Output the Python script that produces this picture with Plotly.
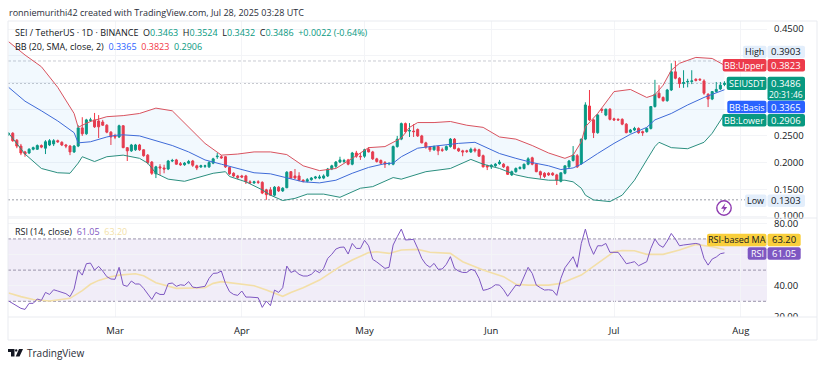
import pandas as pd
import plotly.graph_objects as go

W, H = 825, 366
FONT = "Open Sans"

# ---------- data ----------
dates = pd.date_range("2025-02-03", periods=176)
opens = [.254,.255,.242,.231,.220,.218,.225,.225,.232,.227,
 .233,.235,.241,.238,.233,.231,.220,.231,.265,.254,
 .279,.280,.278,.276,.270,.257,.250,.248,.269,.228,
 .222,.224,.233,.224,.214,.201,.179,.192,.190,.188,
 .203,.205,.198,.196,.199,.203,.194,.192,.193,.192,
 .199,.211,.211,.211,.191,.180,.175,.175,.175,.164,
 .162,.164,.163,.149,.149,.139,.154,.147,.153,.183,
 .175,.175,.167,.165,.168,.171,.171,.171,.175,.188,
 .193,.201,.202,.205,.197,.218,.212,.212,.225,.220,
 .207,.204,.200,.198,.197,.230,.244,.273,.259,.259,
 .262,.250,.237,.229,.224,.230,.224,.224,.230,.244,
 .226,.222,.222,.220,.225,.224,.213,.194,.192,.194,
 .198,.197,.192,.177,.183,.189,.189,.197,.209,.197,
 .183,.180,.180,.180,.177,.165,.180,.192,.204,.213,
 .198,.244,.306,.280,.256,.300,.289,.300,.282,.281,
 .281,.272,.257,.261,.264,.258,.258,.264,.305,.330,
 .322,.316,.336,.370,.358,.348,.351,.352,.356,.356,
 .353,.328,.319,.333,.338,.3463]
highs = [.257,.257,.244,.235,.222,.227,.230,.234,.234,.242,
 .244,.244,.243,.240,.235,.233,.233,.270,.285,.282,
 .284,.293,.289,.280,.272,.259,.254,.271,.270,.229,
 .235,.235,.235,.225,.216,.203,.194,.197,.196,.205,
 .207,.207,.201,.201,.205,.205,.196,.196,.196,.203,
 .209,.218,.214,.212,.192,.182,.177,.177,.177,.167,
 .166,.167,.165,.151,.154,.156,.156,.154,.184,.184,
 .188,.182,.169,.171,.173,.175,.177,.178,.190,.196,
 .203,.211,.207,.207,.220,.222,.218,.226,.229,.222,
 .209,.206,.203,.201,.232,.250,.275,.275,.274,.272,
 .264,.252,.239,.231,.232,.232,.228,.232,.246,.246,
 .228,.224,.224,.228,.228,.226,.215,.196,.197,.199,
 .205,.199,.194,.185,.191,.193,.198,.210,.211,.199,
 .185,.182,.182,.182,.179,.181,.194,.205,.231,.216,
 .245,.313,.336,.282,.291,.302,.301,.302,.284,.283,
 .283,.274,.263,.267,.266,.260,.266,.306,.355,.345,
 .324,.338,.386,.3903,.360,.373,.357,.373,.358,.358,
 .356,.330,.334,.351,.351,.3524]
lows = [.250,.239,.227,.214,.211,.216,.223,.224,.227,.216,
 .231,.231,.237,.231,.227,.214,.218,.229,.250,.252,
 .276,.265,.246,.269,.255,.233,.244,.246,.227,.203,
 .220,.222,.222,.211,.197,.177,.171,.177,.180,.186,
 .201,.196,.194,.194,.197,.192,.186,.190,.190,.190,
 .197,.207,.207,.190,.177,.173,.169,.171,.160,.160,
 .160,.160,.141,.1303,.138,.137,.145,.145,.152,.170,
 .170,.165,.163,.163,.166,.169,.169,.169,.173,.186,
 .190,.199,.199,.195,.195,.209,.205,.209,.219,.205,
 .200,.197,.190,.195,.195,.228,.242,.255,.248,.248,
 .248,.236,.226,.220,.222,.214,.220,.222,.228,.225,
 .220,.212,.218,.218,.219,.211,.191,.186,.188,.192,
 .196,.190,.177,.175,.181,.187,.187,.195,.195,.182,
 .170,.171,.175,.175,.158,.163,.178,.190,.202,.190,
 .196,.242,.278,.246,.254,.293,.287,.279,.278,.278,
 .270,.255,.255,.259,.254,.250,.256,.262,.303,.320,
 .314,.314,.334,.356,.340,.340,.341,.347,.352,.353,
 .327,.304,.317,.331,.336,.3432]
closes = [.254,.241,.231,.218,.216,.225,.228,.232,.229,.239,
 .241,.241,.239,.233,.231,.220,.231,.265,.254,.280,
 .280,.267,.267,.270,.257,.248,.248,.269,.228,.222,
 .233,.233,.224,.213,.200,.180,.192,.190,.188,.203,
 .204,.197,.196,.199,.202,.195,.190,.194,.194,.200,
 .207,.212,.209,.192,.179,.175,.172,.173,.164,.162,
 .164,.163,.143,.140,.139,.154,.147,.152,.182,.171,
 .171,.167,.165,.168,.171,.173,.173,.175,.188,.194,
 .201,.205,.204,.197,.218,.212,.211,.224,.220,.207,
 .202,.199,.197,.198,.230,.244,.273,.258,.260,.258,
 .250,.237,.229,.224,.230,.222,.223,.230,.244,.226,
 .222,.220,.221,.225,.222,.212,.192,.192,.195,.197,
 .201,.192,.178,.183,.189,.191,.197,.207,.197,.183,
 .177,.174,.177,.177,.167,.181,.194,.203,.214,.192,
 .244,.308,.280,.256,.289,.298,.300,.281,.280,.280,
 .272,.256,.261,.264,.256,.256,.264,.305,.328,.322,
 .316,.336,.370,.358,.348,.350,.352,.353,.354,.355,
 .330,.319,.333,.337,.345,.3486]

upper_idx = [0,4,8,12,16,17,18,20,24,28,32,36,40,44,48,52,56,60,64,68,72,76,80,84,88,92,96,98,100,104,108,112,116,120,124,128,132,136,138,140,141,144,148,152,156,158,160,162,164,168,172,175]
upper_val = [.4264,.4015,.3796,.341,.292,.266,.270,.277,.286,.288,.292,.302,.297,.267,.236,.214,.216,.220,.220,.215,.194,.185,.189,.208,.228,.230,.246,.266,.275,.275,.277,.270,.266,.248,.244,.232,.218,.208,.214,.239,.267,.292,.333,.337,.322,.327,.345,.373,.386,.397,.395,.3823]
basis_idx = [0,4,8,12,16,17,20,24,26,28,32,36,40,44,48,52,56,60,64,68,72,76,80,84,88,92,94,96,100,102,106,110,114,116,120,124,128,132,135,138,140,144,148,152,156,158,162,166,170,175]
basis_val = [.341,.315,.297,.278,.256,.237,.239,.248,.251,.252,.250,.241,.232,.220,.205,.197,.189,.181,.179,.171,.164,.162,.167,.180,.191,.198,.199,.211,.227,.229,.233,.236,.238,.231,.217,.208,.200,.194,.187,.190,.197,.217,.236,.253,.266,.280,.292,.308,.322,.3365]
lower_idx = [0,4,8,12,15,17,18,21,24,28,32,34,36,39,43,47,50,53,54,58,62,64,67,70,73,77,81,86,89,94,96,102,108,113,116,120,124,127,132,136,138,140,141,143,147,150,153,156,158,159,162,166,170,172,175]
lower_val = [.255,.216,.189,.181,.180,.199,.211,.202,.211,.214,.208,.199,.180,.169,.165,.174,.180,.183,.174,.164,.149,.139,.129,.133,.141,.141,.135,.152,.155,.172,.169,.183,.189,.206,.197,.189,.177,.172,.167,.167,.164,.152,.139,.130,.127,.139,.167,.205,.230,.238,.228,.226,.238,.255,.2906]

rsi = [30.2,28.5,27.2,25.5,24.8,28.7,28.7,31.5,30.6,35.7,34.4,37.4,36.6,35.7,34.9,33,37.9,50,46.8,54.1,54.5,50,52.4,49.4,45.8,44.3,44.1,51.8,40.4,39.6,43,41.1,41.1,38.3,35.1,31.2,35.7,34.4,34.4,41.3,41.7,39.6,40.6,40.2,42.6,39.1,38.7,39.1,39.6,44.7,47.9,48.1,49.4,41.5,36.2,34.4,33.8,36.6,32.7,32.7,32.7,32.3,26.1,30.2,27.2,37.2,35.7,38.7,
 52.6,48.5,49.6,47.3,46.2,46.2,47.3,49.8,48.3,51.1,57.5,60.1,63.5,64.6,64.8,60.3,67.1,63.9,63.9,69.1,65.6,56.9,55.2,53.2,51.1,51.8,66.1,71.4,76.3,69.3,69.3,69.7,63.9,57.5,53.7,51.8,54.3,50.5,50.7,53.7,58.6,51.1,49.4,48.5,48.5,50.5,49.6,44.7,37,37.6,38.7,40.6,40.4,37.4,33.2,36.6,40.4,39.8,45.8,51.8,47.9,40.4,38.7,37.2,37.4,
 37,33.8,44.7,51.5,55.4,58.6,51.8,67.1,76.3,66.1,60.1,65.6,65.6,67.1,61.4,61.4,61.4,57.9,54.1,54.7,55.4,52.8,53.9,55.4,63.9,69.9,66.1,64.6,68.6,73.5,69.9,65.6,66.1,66.5,66.9,67.1,66.5,57.5,53.2,57.1,58.4,60.5,61.05]
rsi_ma_idx = [0,3,6,10,15,18,20,22,25,27,31,33,36,39,41,48,50,52,55,60,63,67,69,72,76,81,84,88,90,93,96,100,103,108,111,116,121,124,127,132,135,140,144,148,150,153,156,160,164,168,172,175]
rsi_ma_val = [35.3,33,31.2,30.2,31.9,36.8,40.9,43.4,45.8,46.8,47.7,46.4,41.9,40,38.3,38.7,41.5,42.6,41.5,40,37.2,33.2,35.7,38.7,43.6,52.2,56.5,61.2,61.8,60.7,62.9,63.3,61.4,60.7,55.4,50,45.8,40.9,40.4,40.4,41.5,46.8,54.3,61.8,62.6,62.4,60.1,60.1,62.9,66.5,65,63.2]

price_ticks = [.10,.15,.20,.25,.30,.35,.40,.45]
price_labels = ["0.1000","0.1500","0.2000","0.2500","","","","0.4500"]
rsi_ticks = [20,40,60,80]
rsi_labels = ["20.00","40.00","","80.00"]
rsi_levels = [30,50,70]
month_ticks = ["2025-03-01","2025-04-01","2025-05-01","2025-06-01","2025-07-01","2025-08-01"]
month_labels = ["Mar","Apr","May","Jun","Jul","Aug"]
high_price, low_price, last_price = 0.3903, 0.1303, 0.3486

for a in (opens, highs, lows, closes, rsi):
    assert len(a) == 176, len(a)
assert len(upper_idx) == len(upper_val) and len(basis_idx) == len(basis_val)
assert len(lower_idx) == len(lower_val) and len(rsi_ma_idx) == len(rsi_ma_val)

# ---------- colours ----------
UP, DOWN, BLUE, PURPLE, GOLD = "#089981", "#F23645", "#2962FF", "#7E57C2", "#F9CF3C"
TXT = "#131722"
GRID = "#F3F4F7"
BORDER = "#E9EBF0"

# ---------- layout helpers ----------
def px(x): return x / W
def py(y): return 1 - y / H

shapes, notes = [], []

def text(x, y, s, size=9, color=TXT, anchor="left"):
    notes.append(dict(xref="paper", yref="paper", x=px(x), y=py(y), text=s, showarrow=False,
                      xanchor=anchor, yanchor="middle", align=anchor, borderpad=0,
                      font=dict(family=FONT, size=size, color=color)))

def rrect(x0, x1, y0, y1, fill, r=2):
    X0, X1, Y0, Y1 = px(x0), px(x1), py(y0), py(y1)
    rx, ry = r / W, r / H
    d = (f"M{X0+rx},{Y0} L{X1-rx},{Y0} Q{X1},{Y0} {X1},{Y0-ry} L{X1},{Y1+ry} Q{X1},{Y1} {X1-rx},{Y1} "
         f"L{X0+rx},{Y1} Q{X0},{Y1} {X0},{Y1+ry} L{X0},{Y0-ry} Q{X0},{Y0} {X0+rx},{Y0} Z")
    shapes.append(dict(type="path", xref="paper", yref="paper", path=d, fillcolor=fill, line_width=0, layer="above"))

def tag(name, value, xl, yc, h, bg, fg="white", xr=805):
    rrect(xl, 766.5, yc - h/2, yc + h/2, bg)
    rrect(767.5, xr, yc - h/2, yc + h/2, bg)
    text((xl + 766.5) / 2, yc, name, size=9, color=fg, anchor="center")
    text(786 if xr > 802 else 784, yc, value, size=9.5, color=fg, anchor="center")

def hline(v, yref, color, dash, width=1):
    shapes.append(dict(type="line", xref="paper", x0=px(8), x1=px(767), yref=yref, y0=v, y1=v,
                       line=dict(color=color, width=width, dash=dash), layer="below"))

# ---------- traces ----------
fig = go.Figure()
band_x = [dates[i] for i in upper_idx] + [dates[i] for i in reversed(lower_idx)]
band_y = upper_val + lower_val[::-1]
fig.add_trace(go.Scatter(x=band_x, y=band_y, fill="toself", fillcolor="rgba(33,150,243,0.06)",
                         mode="lines", line=dict(width=0), hoverinfo="skip", showlegend=False))
fig.add_trace(go.Candlestick(x=dates, open=opens, high=highs, low=lows, close=closes, whiskerwidth=0,
                             increasing=dict(line=dict(color=UP, width=1), fillcolor=UP),
                             decreasing=dict(line=dict(color=DOWN, width=1), fillcolor=DOWN),
                             showlegend=False))
for idx, val, col in ((upper_idx, upper_val, "#D9535F"), (basis_idx, basis_val, "#3F6BD8"), (lower_idx, lower_val, "#2B8F7F")):
    fig.add_trace(go.Scatter(x=[dates[i] for i in idx], y=val, mode="lines",
                             line=dict(color=col, width=1), showlegend=False))
fig.add_trace(go.Scatter(x=[dates[i] for i in rsi_ma_idx], y=rsi_ma_val, mode="lines", xaxis="x2", yaxis="y2",
                         line=dict(color="#F3DFA8", width=1.6), showlegend=False))
fig.add_trace(go.Scatter(x=dates, y=rsi, mode="lines", xaxis="x2", yaxis="y2",
                         line=dict(color=PURPLE, width=1), showlegend=False))

# ---------- reference lines ----------
hline(high_price, "y", "#C9CBD2", "3px,2px")
hline(last_price, "y", "#B5B8C0", "2px,2px")
hline(low_price, "y", "#9A9DA6", "2px,2px")
shapes.append(dict(type="rect", xref="paper", x0=px(8), x1=px(767), yref="y2", y0=rsi_levels[0], y1=rsi_levels[2],
                   fillcolor="rgba(126,87,194,0.11)", line_width=0, layer="below"))
for lv in rsi_levels:
    hline(lv, "y2", "#9C95AC", "3px,2px")

# ---------- frame; masks clip the axis labels at each pane edge ----------
shapes.append(dict(type="rect", xref="paper", yref="paper", x0=px(767.5), x1=px(817), y0=py(321), y1=py(317),
                   fillcolor="white", line_width=0, layer="above"))
for y in (21, 218, 317, 340):
    shapes.append(dict(type="line", xref="paper", yref="paper", x0=px(8), x1=px(817), y0=py(y), y1=py(y),
                       line=dict(color=BORDER, width=1), layer="above"))
for x in (8, 817):
    shapes.append(dict(type="line", xref="paper", yref="paper", x0=px(x), x1=px(x), y0=py(21), y1=py(340),
                       line=dict(color=BORDER, width=1), layer="above"))

# ---------- header and legends ----------
text(8, 12, "ronniemurithi42 created with TradingView.com, Jul 28, 2025 03:28 UTC", size=9, color="#2A2E39")
g = f'<span style="color:{UP}">'
text(14, 33, f"SEI / TetherUS · 1D · BINANCE  O{g}0.3463</span>  H{g}0.3524</span>  L{g}0.3432</span>  "
             f"C{g}0.3486  +0.0022 (-0.64%)</span>", size=9)
text(14, 46, f'BB (20, SMA, close, 2)  <span style="color:{BLUE}">0.3365</span>  '
             f'<span style="color:{DOWN}">0.3823</span>  {g}0.2906</span>', size=9)
text(14, 231, f'RSI (14, close)  <span style="color:{PURPLE}">61.05</span>  '
              f'<span style="color:#F3DFA8">63.20</span>', size=9)

# ---------- price tags ----------
tag("High", "0.3903", 743, 52, 12.5, "#E3EEFB", fg=TXT)
tag("BB:Upper", "0.3823", 722.7, 65.3, 12.5, "#EC3B4B")
rrect(726.7, 766.5, 76.7, 90, UP)
rrect(767.5, 805, 76.7, 100.5, UP)
text(746.6, 83.3, "SEIUSDT", size=9, color="white", anchor="center")
text(786, 83, "0.3486", size=9.5, color="white", anchor="center")
text(786, 94.5, "20:31:46", size=8.5, color="white", anchor="center")
tag("BB:Basis", "0.3365", 727.3, 107, 12.5, BLUE)
tag("BB:Lower", "0.2906", 722.3, 120.3, 12.5, UP)
tag("Low", "0.1303", 745, 200.7, 12.5, "#E3EEFB", fg=TXT)
tag("RSI-based MA", "63.20", 707, 240, 12.5, GOLD, fg=TXT, xr=800.7)
tag("RSI", "61.05", 747.7, 253.5, 12.5, PURPLE, xr=800.7)

# ---------- lightning badge ----------
cx, cy, r = 724, 208, 7.2
shapes.append(dict(type="circle", xref="paper", yref="paper", x0=px(cx-r), x1=px(cx+r), y0=py(cy-r), y1=py(cy+r),
                   line=dict(color="#8E3BB0", width=1.4), fillcolor="white", layer="above"))
bolt = [(725.5,203),(721,208.8),(724,208.8),(722.6,213),(727.2,207),(724.2,207)]
shapes.append(dict(type="path", xref="paper", yref="paper", line_width=0, fillcolor="#8E3BB0", layer="above",
                   path="M" + " L".join(f"{px(a)},{py(b)}" for a, b in bolt) + " Z"))

# ---------- TradingView mark ----------
for poly in ([(8,349),(14.5,349),(14.5,356.5),(11,356.5),(11,352),(8,352)],):
    shapes.append(dict(type="path", xref="paper", yref="paper", line_width=0, fillcolor=TXT, layer="above",
                       path="M" + " L".join(f"{px(a)},{py(b)}" for a, b in poly) + " Z"))
shapes.append(dict(type="circle", xref="paper", yref="paper", x0=px(15), x1=px(17.4), y0=py(351.6), y1=py(349.2),
                   fillcolor=TXT, line_width=0, layer="above"))
shapes.append(dict(type="path", xref="paper", yref="paper", line_width=0, fillcolor=TXT, layer="above",
                   path="M" + " L".join(f"{px(a)},{py(b)}" for a, b in [(19,349),(23,349),(19.5,356.5),(15.7,356.5)]) + " Z"))
text(26, 353, "TradingView", size=10, color="#2A2E39")

# ---------- axes ----------
x_range = ["2025-02-02 20:10", "2025-08-07 09:36"]
common_x = dict(range=x_range, type="date", tickvals=month_ticks, ticktext=month_labels,
                showgrid=True, gridcolor=GRID, gridwidth=1, zeroline=False, showline=False,
                domain=[px(8), px(767)], fixedrange=True)
fig.update_layout(
    width=W, height=H, margin=dict(l=0, r=0, t=0, b=0, pad=0, autoexpand=False),
    paper_bgcolor="white", plot_bgcolor="white", showlegend=False,
    font=dict(family=FONT, size=9.5, color=TXT),
    shapes=shapes, annotations=notes,
    xaxis=dict(**common_x, anchor="y", showticklabels=False, rangeslider=dict(visible=False)),
    xaxis2=dict(**common_x, anchor="y2", showticklabels=True, ticks="", ticklabelstandoff=6,
                tickfont=dict(family=FONT, size=9.5, color=TXT)),
    yaxis=dict(domain=[py(218), py(21)], range=[0.09625, 0.4652], side="right", anchor="x",
               tickvals=price_ticks, ticktext=price_labels, showgrid=True,
               gridcolor=GRID, zeroline=False, showline=False, ticks="", ticklabelstandoff=6,
               tickfont=dict(family=FONT, size=9.5, color=TXT)),
    yaxis2=dict(domain=[py(317), py(219)], range=[19.94, 82.76], side="right", anchor="x2",
                tickvals=rsi_ticks, ticktext=rsi_labels, showgrid=True,
                gridcolor=GRID, zeroline=False, showline=False, ticks="", ticklabelstandoff=6,
                tickfont=dict(family=FONT, size=9.5, color=TXT)),
)
fig.write_html("out.html", config=dict(displayModeBar=False),
               post_script="document.body.style.margin='0';")
